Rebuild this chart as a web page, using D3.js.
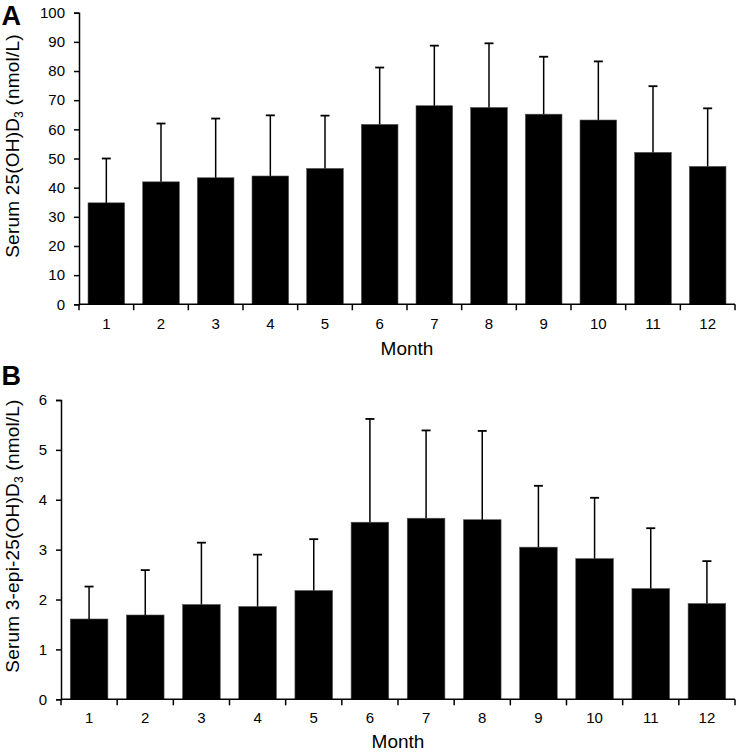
<!DOCTYPE html>
<html><head><meta charset="utf-8">
<script src="https://cdn.jsdelivr.net/npm/d3@7"></script>
<style>body{margin:0;background:#fff;font-family:Arial,"Liberation Sans",sans-serif}</style>
</head><body><svg id="c" width="738" height="753"></svg>
<script>
const months = ["1","2","3","4","5","6","7","8","9","10","11","12"];
const meanA = [34.8,42.0,43.4,44.0,46.6,61.7,68.1,67.5,65.2,63.2,52.1,47.3];
const upperA = [50.0,62.0,63.7,64.8,64.7,81.2,88.7,89.5,84.9,83.3,74.8,67.2];
const ticksA = [0,10,20,30,40,50,60,70,80,90,100];
const meanB = [1.61,1.69,1.90,1.86,2.18,3.55,3.63,3.60,3.05,2.82,2.22,1.92];
const upperB = [2.26,2.59,3.14,2.90,3.21,5.62,5.39,5.38,4.28,4.04,3.43,2.77];
const ticksB = [0,1,2,3,4,5,6];

const svg = d3.select("#c");
const font = "Arial, 'Liberation Sans', sans-serif";

function panel(o){
  const g = svg.append("g");
  const x = d3.scaleBand().domain(months).range([o.x0,o.x1]).paddingInner(0.33).paddingOuter(0.165);
  const y = d3.scaleLinear().domain(o.domain).range([o.yb,o.yt]);
  g.selectAll("rect.bar").data(months).join("rect")
    .attr("x",d=>x(d)).attr("width",x.bandwidth())
    .attr("y",(d,i)=>y(o.mean[i])).attr("height",(d,i)=>y(0)-y(o.mean[i]))
    .attr("fill","#000").attr("stroke","#555").attr("stroke-width",0.6);
  g.selectAll("line.err").data(months).join("line")
    .attr("x1",d=>x(d)+x.bandwidth()/2).attr("x2",d=>x(d)+x.bandwidth()/2)
    .attr("y1",(d,i)=>y(o.mean[i])).attr("y2",(d,i)=>y(o.upper[i]))
    .attr("stroke","#000").attr("stroke-width",1.5);
  g.selectAll("line.cap").data(months).join("line")
    .attr("x1",d=>x(d)+x.bandwidth()/2-4.5).attr("x2",d=>x(d)+x.bandwidth()/2+4.5)
    .attr("y1",(d,i)=>y(o.upper[i])).attr("y2",(d,i)=>y(o.upper[i]))
    .attr("stroke","#000").attr("stroke-width",1.8);
  const ya = g.append("g").attr("transform",`translate(${o.x0},0)`)
    .call(d3.axisLeft(y).tickValues(o.ticks).tickSize(5).tickPadding(9).tickFormat(d3.format("d")));
  ya.select(".domain").attr("stroke","#000").attr("stroke-width",1.5);
  ya.selectAll(".tick line").attr("stroke","#000").attr("stroke-width",1.5);
  ya.selectAll("text").attr("font-family",font).attr("font-size",15).attr("fill","#000");
  const xa = g.append("g").attr("transform",`translate(0,${o.yb})`);
  xa.append("line").attr("x1",o.x0).attr("x2",o.x1).attr("y1",0).attr("y2",0).attr("stroke","#000").attr("stroke-width",1.5);
  const bounds = d3.range(13).map(i=>o.x0+(o.x1-o.x0)*i/12);
  xa.selectAll("line.t").data(bounds).join("line").attr("class","t")
    .attr("x1",d=>d).attr("x2",d=>d).attr("y1",0).attr("y2",6).attr("stroke","#000").attr("stroke-width",1.5);
  xa.selectAll("text.m").data(months).join("text").attr("class","m")
    .attr("x",d=>x(d)+x.bandwidth()/2).attr("y",o.tly).attr("text-anchor","middle")
    .attr("font-family",font).attr("font-size",15).text(d=>d);
  g.append("text").attr("x",(o.x0+o.x1)/2).attr("y",o.my).attr("text-anchor","middle")
    .attr("font-family",font).attr("font-size",19).text("Month");
  const t = g.append("text").attr("transform",`translate(${o.tx},${o.ty}) rotate(-90)`)
    .attr("text-anchor","middle").attr("font-family",font).attr("font-size",19).attr("letter-spacing",0.2);
  t.append("tspan").text(o.title[0]);
  t.append("tspan").attr("font-size",12).attr("dy",4).text("3");
  t.append("tspan").attr("dy",-4).text(o.title[1]);
  g.append("text").attr("x",1.5).attr("y",o.ly).attr("font-family",font).attr("font-weight","bold")
    .attr("font-size",27).text(o.letter);
}

panel({x0:79,x1:735,yb:304.3,yt:12.7,domain:[0,100],mean:meanA,upper:upperA,ticks:ticksA,
  title:["Serum 25(OH)D"," (nmol/L)"],tx:18.5,ty:146,letter:"A",ly:24.5,tly:25,my:355});
panel({x0:61,x1:735,yb:699.3,yt:400,domain:[0,6],mean:meanB,upper:upperB,ticks:ticksB,
  title:["Serum 3-epi-25(OH)D"," (nmol/L)"],tx:18.5,ty:536,letter:"B",ly:385,tly:24,my:748});
</script></body></html>
